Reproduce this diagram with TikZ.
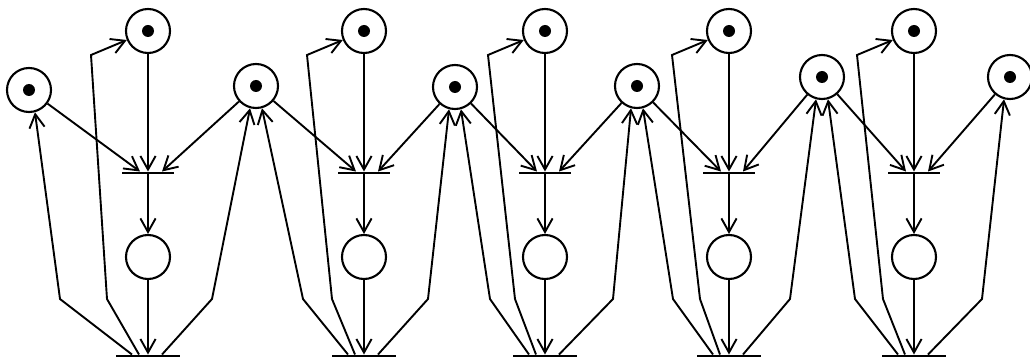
\documentclass[tikz,border=0pt]{standalone}
\usetikzlibrary{arrows.meta}

\tikzset{
  place/.style={circle, draw, line width=1.5pt, minimum size=11mm, inner sep=0pt},
  marked/.style={place, path picture={\fill (path picture bounding box.center) circle (1.5mm);}},
  bar/.style={rectangle, fill=black, inner sep=0pt, minimum height=0.6mm, minimum width=#1},
  arc/.style={line width=1.35pt, -{Straight Barb[length=3.4mm, width=3.8mm]}},
}

\begin{document}
\begin{tikzpicture}[x=0.25mm, y=0.25mm]
  \useasboundingbox (0,0) rectangle (1030,363);
  % forks
  \foreach \j/\x/\y in {0/29/273, 1/256/277, 2/455/276, 3/637/277, 4/822/286, 5/1010/286}
    \node[marked] (f\j) at (\x,\y) {};
  % philosophers
  \foreach \i/\j/\x/\lb/\tb/\rb in {1/0/148/60/107/212, 2/1/364/303/332/428, 3/2/545/490/515/613, 4/3/729/673/700/790, 5/4/914/855/883/982} {
    \node[marked] (t\i) at (\x,332) {};
    \node[bar=13mm] (b\i) at (\x,190) {};
    \node[place] (e\i) at (\x,106) {};
    \node[bar=16mm] (r\i) at (\x,7) {};
    % take forks
    \draw[arc] (f\j) -- ([xshift=-2mm]b\i.north);
    \draw[arc] (t\i) -- (b\i);
    \draw[arc] (f\i) -- ([xshift=3.5mm]b\i.north);
    \draw[arc] (b\i) -- (e\i);
    \draw[arc] (e\i) -- (r\i);
    % put forks back
    \draw[arc] ([xshift=-4mm]r\i.north) -- (\lb,64) -- (f\j.285);
    \draw[arc] ([xshift=-2.25mm]r\i.north) -- (\tb,64) -- (\x-57,308) -- (t\i.203);
    \draw[arc] ([xshift=3.5mm]r\i.north) -- (\rb,64) -- (f\i.255);
  }
\end{tikzpicture}
\end{document}
